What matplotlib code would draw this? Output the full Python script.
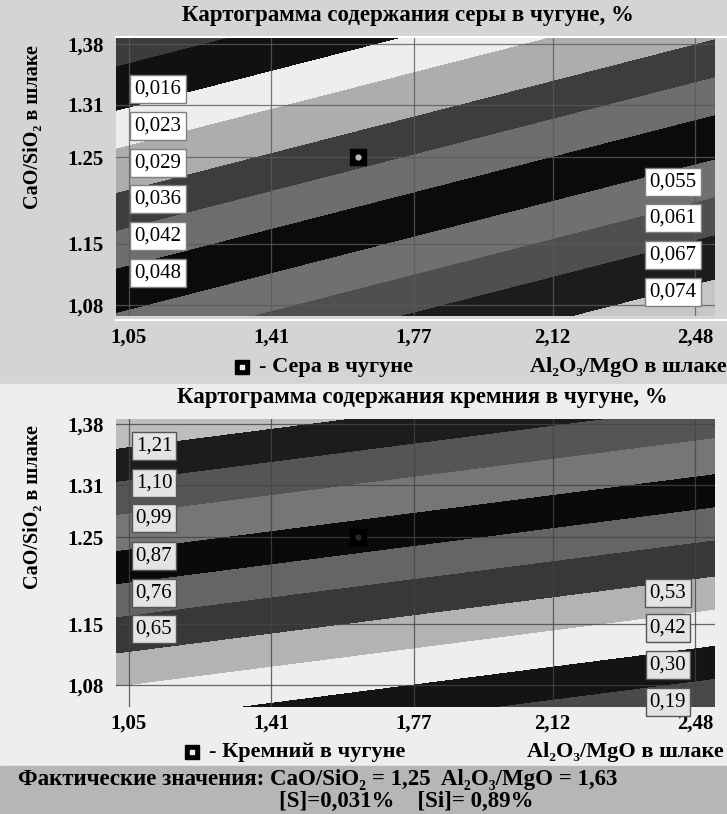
import matplotlib
matplotlib.use('Agg')
import matplotlib.pyplot as plt
import numpy as np
from matplotlib.lines import Line2D
from matplotlib.patches import Rectangle

plt.rcParams['font.family'] = ['Liberation Serif', 'DejaVu Serif']

W, H = 727, 814

# axes ticks (labels as printed on the chart)
x_ticks = [1.05, 1.41, 1.77, 2.12, 2.48]
x_tick_labels = ['1,05', '1,41', '1,77', '2,12', '2,48']
y_ticks = [1.08, 1.15, 1.25, 1.31, 1.38]
y_tick_labels = ['1,08', '1.15', '1.25', '1.31', '1,38']

# actual working point
basicity_actual = 1.25
al_mg_actual = 1.63
s_actual = 0.031
si_actual = 0.89

# sulfur map: levels, band colours, plane S = c0 + c1*Al2O3/MgO + c2*CaO/SiO2
s_levels = [0.016, 0.023, 0.029, 0.036, 0.042, 0.048, 0.055, 0.061, 0.067, 0.074]
s_coef = [0.1856, 0.01608, -0.1374]
s_colors = ['#3c3c3c', '#111111', '#eeeeee', '#adadad', '#3d3d3d', '#6e6e6e',
            '#0b0b0b', '#707070', '#4f4f4f', '#1c1c1c', '#c6c6c6']

# silicon map
si_levels = [0.19, 0.30, 0.42, 0.53, 0.65, 0.76, 0.87, 0.99, 1.10, 1.21]
si_coef = [-2.526, -0.1692, 2.890]
si_colors = ['#4a4a4a', '#141414', '#eeeeee', '#b3b3b3', '#383838', '#656565',
             '#0a0a0a', '#767676', '#555555', '#1c1c1c', '#bdbdbd']

xlim = (1.018, 2.530)


def fx(px):
    return px / W


def fy(py):
    return 1 - py / H


def draw_map(ax, levels, colors, coef, ylim, grid_color, dot_color):
    xs = np.linspace(xlim[0], xlim[1], 300)
    ys = np.linspace(ylim[0], ylim[1], 300)
    X, Y = np.meshgrid(xs, ys)
    Z = coef[0] + coef[1] * X + coef[2] * Y
    ax.contourf(X, Y, Z, levels=levels, colors=colors, extend='both')
    ax.set_xlim(xlim)
    ax.set_ylim(ylim)
    ax.set_xticks(x_ticks)
    ax.set_xticklabels(x_tick_labels, fontweight='bold', fontsize=15)
    ax.set_yticks(y_ticks)
    ax.set_yticklabels(y_tick_labels, fontweight='bold', fontsize=15)
    ax.tick_params(length=0)
    ax.tick_params(axis='y', pad=9)
    ax.grid(True, color=grid_color, lw=0.9, alpha=0.8)
    for s in ax.spines.values():
        s.set_visible(False)
    ax.plot([al_mg_actual], [basicity_actual], marker='s', ms=11,
            color='black', ls='none')
    ax.plot([al_mg_actual], [basicity_actual], marker='o', ms=3.5,
            color=dot_color, ls='none')


def level_box(text, px, py, fc, ec):
    fig.text(fx(px), fy(py), text, ha='center', va='center', fontsize=15,
             bbox=dict(boxstyle='square,pad=0.2', fc=fc, ec=ec, lw=1))


def legend_marker(px, py):
    fig.add_artist(Line2D([fx(px)], [fy(py)], marker='s', ms=10, color='black',
                          ls='none', transform=fig.transFigure))
    fig.add_artist(Line2D([fx(px)], [fy(py)], marker='s', ms=3.5, color='#eeeeee',
                          ls='none', transform=fig.transFigure))


fig = plt.figure(figsize=(W / 100, H / 100), dpi=100)

# panel backgrounds
fig.patches.append(Rectangle((0, fy(384)), 1, 1 - fy(384), color='#d4d4d4',
                             transform=fig.transFigure, zorder=-10))
fig.patches.append(Rectangle((0, fy(766)), 1, fy(384) - fy(766), color='#eeeeee',
                             transform=fig.transFigure, zorder=-10))
fig.patches.append(Rectangle((0, 0), 1, fy(766), color='#b6b6b6',
                             transform=fig.transFigure, zorder=-10))
for py in (37, 320):
    fig.add_artist(Line2D([fx(116), 1], [fy(py), fy(py)], color='white', lw=1.5,
                          transform=fig.transFigure))

# top: sulfur
ax1 = fig.add_axes([fx(116), fy(316), 599 / W, 278 / H])
draw_map(ax1, s_levels, s_colors, s_coef, (1.067, 1.387), '#5a5a5a', '#bbbbbb')
ax1.tick_params(axis='x', pad=8)

fig.text(fx(408), fy(16), 'Картограмма содержания серы в чугуне, %',
         ha='center', va='center', fontsize=16.5, fontweight='bold')
fig.text(fx(33), fy(127), 'CaO/SiO₂ в шлаке', rotation=90, ha='center',
         va='center', fontsize=14.5, fontweight='bold')
fig.text(fx(727), fy(367), 'Al₂O₃/MgO в шлаке', ha='right', va='center',
         fontsize=16, fontweight='bold')
legend_marker(242, 367)
fig.text(fx(259), fy(367), '- Сера в чугуне', ha='left', va='center',
         fontsize=16, fontweight='bold')

for v, py in zip(s_levels[:6], [89, 126, 163, 199, 236, 273]):
    level_box(f'{v:.3f}'.replace('.', ','), 158, py, 'white', '#808080')
for v, py in zip(s_levels[6:], [182, 218, 255, 292]):
    level_box(f'{v:.3f}'.replace('.', ','), 673, py, 'white', '#808080')

# bottom: silicon
ax2 = fig.add_axes([fx(116), fy(707), 599 / W, 288 / H])
draw_map(ax2, si_levels, si_colors, si_coef, (1.055, 1.386), '#444444', '#2a2a2a')
ax2.tick_params(axis='x', pad=5)

fig.text(fx(422), fy(397), 'Картограмма содержания кремния в чугуне, %',
         ha='center', va='center', fontsize=16.5, fontweight='bold')
fig.text(fx(33), fy(507), 'CaO/SiO₂ в шлаке', rotation=90, ha='center',
         va='center', fontsize=14.5, fontweight='bold')
fig.text(fx(724), fy(752), 'Al₂O₃/MgO в шлаке', ha='right', va='center',
         fontsize=16, fontweight='bold')
legend_marker(192, 752)
fig.text(fx(209), fy(752), '- Кремний в чугуне', ha='left', va='center',
         fontsize=16, fontweight='bold')

si_left = si_levels[::-1][:6]
si_right = si_levels[::-1][6:]
for v, py in zip(si_left, [446, 483, 518, 556, 593, 629]):
    level_box(f'{v:.2f}'.replace('.', ','), 154, py, '#e4e4e4', '#555555')
for v, py in zip(si_right, [593, 628, 665, 702]):
    level_box(f'{v:.2f}'.replace('.', ','), 668, py, '#e4e4e4', '#555555')

# footer with actual values
fig.text(fx(318), fy(779),
         f'Фактические значения: CaO/SiO₂ = {basicity_actual:.2f}'.replace('.', ',')
         + f'  Al₂O₃/MgO = {al_mg_actual:.2f}'.replace('.', ','),
         ha='center', va='center', fontsize=16.5, fontweight='bold')
fig.text(fx(406), fy(801),
         f'[S]={s_actual:.3f}%'.replace('.', ',') + '    '
         + f'[Si]= {si_actual:.2f}%'.replace('.', ','),
         ha='center', va='center', fontsize=16.5, fontweight='bold')

fig.savefig('out.png', dpi=100)
